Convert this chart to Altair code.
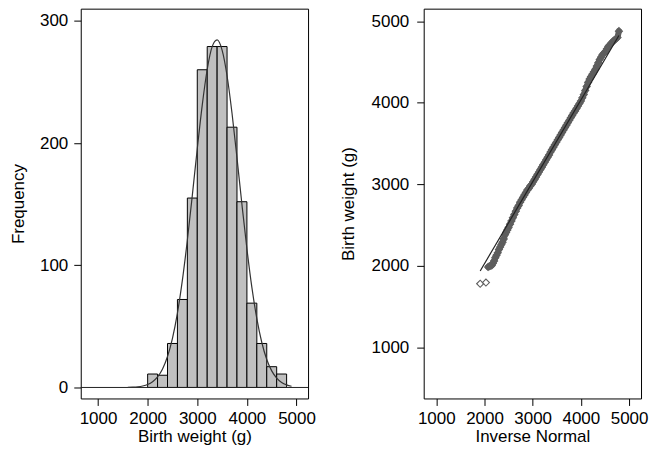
import altair as alt
import pandas as pd

# ---- Histogram of birth weight (bins of 200 g) ----
bin_start = [2000, 2200, 2400, 2600, 2800, 3000, 3200, 3400, 3600, 3800, 4000, 4200, 4400, 4600]
bin_end = [2200, 2400, 2600, 2800, 3000, 3200, 3400, 3600, 3800, 4000, 4200, 4400, 4600, 4800]
counts = [11, 10, 36, 72, 155, 260, 279, 279, 213, 152, 69, 36, 17, 11]

# ---- Overlaid normal curve ----
curve_x = [1600, 1700, 1800, 1900, 2000, 2100, 2200, 2300, 2400, 2500, 2600, 2700, 2800,
           2900, 3000, 3100, 3200, 3300, 3400, 3500, 3600, 3700, 3800, 3900, 4000, 4100,
           4200, 4300, 4400, 4500, 4600, 4700, 4800, 4900]
curve_y = [0.1, 0.25, 0.55, 1.2, 2.4, 4.7, 8.6, 15.1, 25.3, 40.2, 60.9, 87.8, 120.5,
           157.2, 195.4, 231.1, 260.2, 278.9, 284.4, 276.1, 255.1, 224.4, 187.9, 149.7,
           113.5, 81.9, 56.3, 36.8, 22.9, 13.6, 7.7, 4.1, 2.1, 1.0]

# ---- Normal quantile plot ----
qq_x = [1911, 2030, 2075, 2100, 2125, 2150, 2175, 2200, 2225, 2250, 2275, 2300, 2325, 2350,
        2375, 2400, 2425, 2450, 2475, 2500, 2530, 2560, 2590, 2620, 2650, 2680, 2710, 2740,
        2770, 2800, 2830, 2860, 2890, 2920, 2950, 2980, 3010, 3040, 3070, 3100, 3130, 3160,
        3190, 3220, 3250, 3280, 3310, 3340, 3370, 3400, 3430, 3460, 3490, 3520, 3550, 3580,
        3610, 3640, 3670, 3700, 3730, 3760, 3790, 3820, 3850, 3880, 3910, 3940, 3970, 4000,
        4030, 4060, 4090, 4120, 4150, 4180, 4210, 4240, 4270, 4300, 4330, 4360, 4390, 4420,
        4450, 4480, 4510, 4540, 4570, 4600, 4630, 4660, 4690, 4720, 4760, 4790]
qq_y = [1780, 1795, 1985, 1995, 2000, 2005, 2030, 2060, 2100, 2130, 2160, 2200, 2230, 2260,
        2290, 2330, 2380, 2410, 2440, 2470, 2510, 2550, 2590, 2630, 2670, 2710, 2740, 2780,
        2810, 2840, 2870, 2900, 2930, 2950, 2980, 3000, 3030, 3060, 3090, 3120, 3150, 3180,
        3210, 3240, 3270, 3300, 3330, 3360, 3395, 3425, 3455, 3485, 3515, 3545, 3575, 3605,
        3635, 3665, 3695, 3725, 3755, 3785, 3815, 3845, 3875, 3900, 3930, 3960, 3990, 4020,
        4060, 4100, 4150, 4200, 4250, 4290, 4320, 4350, 4380, 4410, 4450, 4490, 4530, 4560,
        4590, 4610, 4630, 4660, 4690, 4710, 4730, 4750, 4765, 4780, 4800, 4878]
ref_x = [1911, 4789]
ref_y = [1937, 4825]

x_ticks = [1000, 2000, 3000, 4000, 5000]
freq_ticks = [0, 100, 200, 300]
bw_ticks = [1000, 2000, 3000, 4000, 5000]

FONT = "Liberation Sans"
FS = 17

hist_df = pd.DataFrame({"start": bin_start, "end": bin_end, "count": counts})
curve_df = pd.DataFrame({"x": curve_x, "y": curve_y})
zero_df = pd.DataFrame({"y": [0]})
qq_df = pd.DataFrame({"inv": qq_x, "bw": qq_y, "idx": list(range(len(qq_x)))})
ref_df = pd.DataFrame({"inv": ref_x, "bw": ref_y})


def axis(title, values, lab_pad, title_pad):
    return alt.Axis(
        title=title, values=values, format="d", grid=False, domain=False,
        ticks=True, tickSize=7, tickColor="black", tickWidth=1,
        labelFont=FONT, labelFontSize=FS, labelColor="black", labelPadding=lab_pad,
        labelAngle=0, labelFlush=False, labelOverlap=False,
        titleFont=FONT, titleFontSize=FS, titleColor="black", titleFontWeight="normal",
        titlePadding=title_pad,
    )


xs_left = alt.Scale(domain=[652, 5232], nice=False, zero=False)
ys_left = alt.Scale(domain=[-9, 310], nice=False, zero=False)

bars = alt.Chart(hist_df).mark_bar(
    fill="#c0c0c0", stroke="black", strokeWidth=1
).encode(
    x=alt.X("start:Q", scale=xs_left, axis=axis("Birth weight (g)", x_ticks, 5, 2)),
    x2="end:Q",
    y=alt.Y("count:Q", scale=ys_left, axis=axis("Frequency", freq_ticks, 6, 12)),
    y2=alt.datum(0),
)

zero_line = alt.Chart(zero_df).mark_rule(color="#222", strokeWidth=1).encode(
    y=alt.Y("y:Q", scale=ys_left)
)

curve = alt.Chart(curve_df).mark_line(
    color="#333", strokeWidth=1.2, interpolate="monotone"
).encode(
    x=alt.X("x:Q", scale=xs_left),
    y=alt.Y("y:Q", scale=ys_left),
)

left = alt.layer(bars, zero_line, curve).properties(width=228, height=391)

xs_right = alt.Scale(domain=[739, 5248], nice=False, zero=False)
ys_right = alt.Scale(domain=[373, 5154], nice=False, zero=False)

band = alt.Chart(qq_df).transform_filter("datum.idx >= 2").mark_line(
    color="#5e5e5e", strokeWidth=6, strokeCap="round", strokeJoin="round"
).encode(
    x=alt.X("inv:Q", scale=xs_right, axis=axis("Inverse Normal", x_ticks, 5, 2)),
    y=alt.Y("bw:Q", scale=ys_right, axis=axis("Birth weight (g)", bw_ticks, 8, 14)),
    order="idx:Q",
)

pts = alt.Chart(qq_df).mark_point(
    shape="diamond", filled=False, size=50, strokeWidth=1.1, color="#5e5e5e", opacity=1
).encode(
    x=alt.X("inv:Q", scale=xs_right),
    y=alt.Y("bw:Q", scale=ys_right),
)

ref = alt.Chart(ref_df).mark_line(color="#222", strokeWidth=1.2).encode(
    x=alt.X("inv:Q", scale=xs_right),
    y=alt.Y("bw:Q", scale=ys_right),
)

right = alt.layer(band, pts, ref).properties(width=218, height=391)

chart = alt.hconcat(left, right, spacing=22).properties(
    padding={"left": 9, "top": 7, "right": 0, "bottom": 0},
    background="white",
).configure_view(stroke="black", strokeWidth=1)

chart.save("out.html", embed_options={"renderer": "svg", "actions": False})
